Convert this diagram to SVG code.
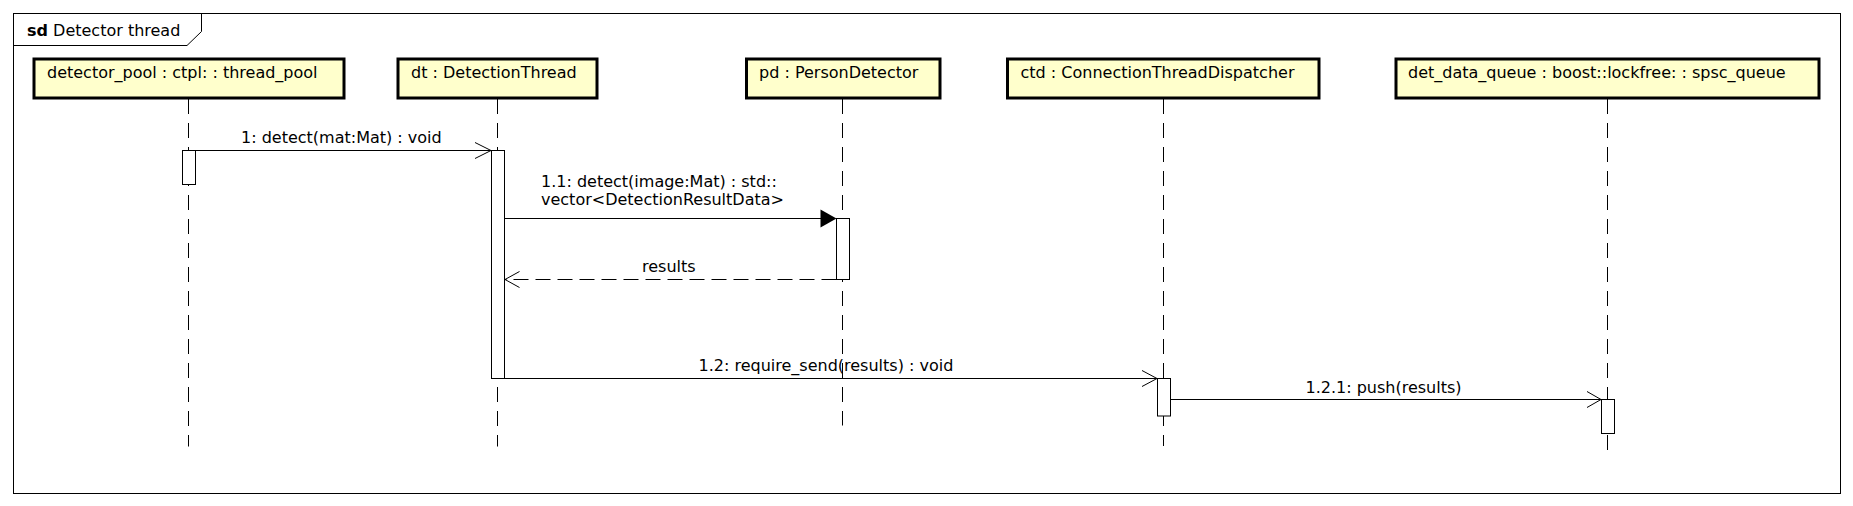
<svg xmlns="http://www.w3.org/2000/svg" width="1853" height="506" viewBox="0 0 1853 506">
<style>
text { font-family: "DejaVu Sans", "Liberation Sans", sans-serif; font-size: 16px; fill: #000; }
.frame { fill: none; stroke: #000; stroke-width: 1; }
.obj { fill: #FFFFCC; stroke: #000; stroke-width: 3; }
.life { stroke: #000; stroke-width: 1; stroke-dasharray: 15 9; fill: none; }
.act { fill: #fff; stroke: #000; stroke-width: 1; }
.msg { stroke: #000; stroke-width: 1; fill: none; }
.ret { stroke: #000; stroke-width: 1; fill: none; stroke-dasharray: 15 7; }
.open { stroke: #000; stroke-width: 1; fill: none; }
.filled { fill: #000; stroke: none; }
</style>
<rect fill="#fff" x="0" y="0" width="1853" height="506"/>
<g id="frame">
  <rect class="frame" x="13.5" y="13.5" width="1827" height="480"/>
  <path class="frame" d="M13.5,45.5 H187 L201.5,31.5 V13.5"/>
  <text x="27" y="36"><tspan font-weight="bold">sd</tspan> Detector thread</text>
</g>
<g id="lifelines">
  <line class="life" x1="188.5" y1="99" x2="188.5" y2="446.5"/>
  <line class="life" x1="497.5" y1="99" x2="497.5" y2="446.5"/>
  <line class="life" x1="842.5" y1="99" x2="842.5" y2="425.5"/>
  <line class="life" x1="1163.5" y1="99" x2="1163.5" y2="446"/>
  <line class="life" x1="1607.5" y1="99" x2="1607.5" y2="450"/>
</g>
<g id="detector_pool">
  <rect class="obj" x="34" y="59" width="310" height="39"/>
  <text x="47" y="78">detector_pool : ctpl: : thread_pool</text>
</g>
<g id="dt">
  <rect class="obj" x="398" y="59" width="199" height="39"/>
  <text x="411" y="78">dt : DetectionThread</text>
</g>
<g id="pd">
  <rect class="obj" x="746.5" y="59" width="193.5" height="39"/>
  <text x="759" y="78">pd : PersonDetector</text>
</g>
<g id="ctd">
  <rect class="obj" x="1007.5" y="59" width="311.5" height="39"/>
  <text x="1020.5" y="78">ctd : ConnectionThreadDispatcher</text>
</g>
<g id="det_data_queue">
  <rect class="obj" x="1396" y="59" width="423" height="39"/>
  <text x="1408" y="78">det_data_queue : boost::lockfree: : spsc_queue</text>
</g>
<g id="activations">
  <rect class="act" x="182.5" y="150.5" width="13" height="34"/>
  <rect class="act" x="491.5" y="150.5" width="13" height="228"/>
  <rect class="act" x="836.5" y="218.5" width="13" height="61"/>
  <rect class="act" x="1157.5" y="378.5" width="13" height="37.5"/>
  <rect class="act" x="1601.5" y="399.5" width="13" height="34"/>
</g>
<g id="connectors">
  <line class="msg" x1="195.5" y1="150.5" x2="491" y2="150.5"/>
  <polyline class="open" points="475,142.5 491,150.5 475,158.5"/>
  <text x="241" y="143">1: detect(mat:Mat) : void</text>

  <line class="msg" x1="504.5" y1="218.5" x2="822" y2="218.5"/>
  <polygon class="filled" points="820.5,209.5 836.5,218.5 820.5,227.5"/>
  <text x="541" y="186.5">1.1: detect(image:Mat) : std::</text>
  <text x="541" y="205">vector&lt;DetectionResultData&gt;</text>

  <line class="ret" x1="836.5" y1="279.5" x2="505" y2="279.5"/>
  <polyline class="open" points="519.5,271.5 505,279.5 519.5,287.5"/>
  <text x="642" y="272">results</text>

  <line class="msg" x1="504.5" y1="378.5" x2="1157" y2="378.5"/>
  <polyline class="open" points="1142,370.5 1157,378.5 1142,386.5"/>
  <text x="698.5" y="371">1.2: require_send(results) : void</text>

  <line class="msg" x1="1170.5" y1="399.5" x2="1601" y2="399.5"/>
  <polyline class="open" points="1587,391.5 1601,399.5 1587,407.5"/>
  <text x="1305.5" y="393">1.2.1: push(results)</text>
</g>
</svg>
